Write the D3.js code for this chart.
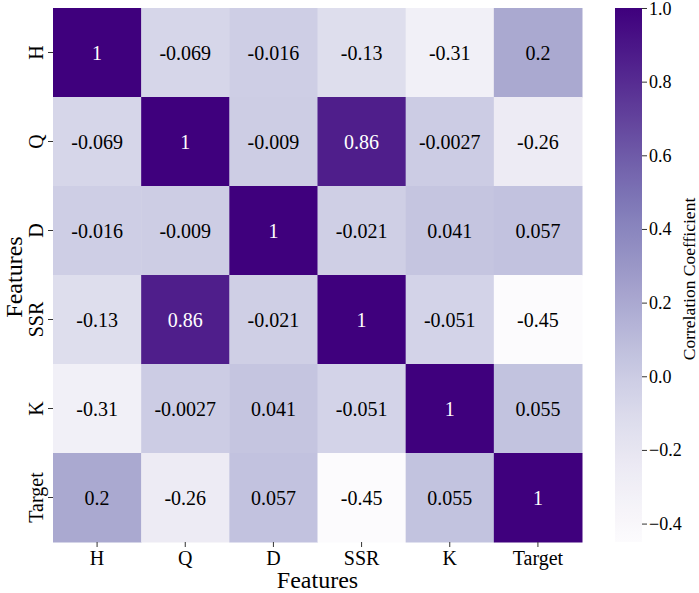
<!DOCTYPE html>
<html>
<head>
<meta charset="utf-8">
<script src="https://cdn.jsdelivr.net/npm/d3@7"></script>
<style>
  body { margin: 0; background: #fff; }
  text { font-family: "Liberation Serif", "Times New Roman", serif; }
</style>
</head>
<body>
<svg id="chart" width="699" height="593"></svg>
<script>
// feature names (rows and columns)
let features = ["H", "Q", "D", "SSR", "K", "Target"];

// correlation matrix, row by row
let corrH      = [1, -0.069, -0.016, -0.13, -0.31, 0.2];
let corrQ      = [-0.069, 1, -0.009, 0.86, -0.0027, -0.26];
let corrD      = [-0.016, -0.009, 1, -0.021, 0.041, 0.057];
let corrSSR    = [-0.13, 0.86, -0.021, 1, -0.051, -0.45];
let corrK      = [-0.31, -0.0027, 0.041, -0.051, 1, 0.055];
let corrTarget = [0.2, -0.26, 0.057, -0.45, 0.055, 1];
let rows = [corrH, corrQ, corrD, corrSSR, corrK, corrTarget];

// colorbar ticks
let cbTicks = [-0.4, -0.2, 0.0, 0.2, 0.4, 0.6, 0.8, 1.0];

let cells = [];
rows.forEach((r, i) => r.forEach((v, j) => cells.push({row: features[i], col: features[j], value: v})));

let vmin = d3.min(cells, d => d.value);
let vmax = d3.max(cells, d => d.value);

let svg = d3.select("#chart");

let mLeft = 53, mTop = 8, mRight = 582, mBottom = 542;

let xScale = d3.scaleBand().domain(features).range([mLeft, mRight]);
let yScale = d3.scaleBand().domain(features).range([mTop, mBottom]);
let color = d3.scaleSequential(d3.interpolatePurples).domain([vmin, vmax]);

// heatmap cells
svg.selectAll(".cell")
  .data(cells)
  .join("rect")
  .attr("class", "cell")
  .attr("x", d => xScale(d.col))
  .attr("y", d => yScale(d.row))
  .attr("width", xScale.bandwidth() + 0.5)
  .attr("height", yScale.bandwidth() + 0.5)
  .attr("fill", d => color(d.value));

// annotations: white text on dark cells
function textColor(v) {
  let c = d3.rgb(color(v));
  let lum = 0.2126 * c.r / 255 + 0.7152 * c.g / 255 + 0.0722 * c.b / 255;
  return lum < 0.408 ? "#fff" : "#000";
}
svg.selectAll(".annot")
  .data(cells)
  .join("text")
  .attr("class", "annot")
  .attr("x", d => xScale(d.col) + xScale.bandwidth() / 2)
  .attr("y", d => yScale(d.row) + yScale.bandwidth() / 2)
  .attr("text-anchor", "middle")
  .attr("dominant-baseline", "central")
  .style("font-size", "20px")
  .attr("fill", d => textColor(d.value))
  .text(d => String(d.value));

// x axis
let xAxis = svg.append("g")
  .attr("transform", "translate(0," + mBottom + ")")
  .call(d3.axisBottom(xScale).tickSize(5).tickPadding(4));
xAxis.select(".domain").remove();
xAxis.selectAll("line").attr("stroke", "#333");
xAxis.selectAll("text")
  .style("font-size", "20px")
  .style("font-family", "Liberation Serif")
  .attr("fill", "#000");

// y axis (vertical labels)
let yAxis = svg.append("g")
  .attr("transform", "translate(" + mLeft + ",0)")
  .call(d3.axisLeft(yScale).tickSize(5).tickPadding(0));
yAxis.select(".domain").remove();
yAxis.selectAll("line").attr("stroke", "#333");
yAxis.selectAll("text")
  .attr("x", 0).attr("dy", null)
  .attr("transform", "translate(-10,0) rotate(-90)")
  .attr("text-anchor", "middle")
  .style("font-size", "20px")
  .style("font-family", "Liberation Serif")
  .attr("fill", "#000");

// axis titles
svg.append("text")
  .attr("x", (mLeft + mRight) / 2)
  .attr("y", 588)
  .attr("text-anchor", "middle")
  .style("font-size", "24px")
  .text("Features");
svg.append("text")
  .attr("transform", "translate(22," + ((mTop + mBottom) / 2 + 2) + ") rotate(-90)")
  .attr("text-anchor", "middle")
  .style("font-size", "24px")
  .text("Features");

// colorbar
let cbX = 615, cbW = 27;
let cbScale = d3.scaleLinear().domain([vmin, vmax]).range([mBottom, mTop]);
let grad = svg.append("defs").append("linearGradient")
  .attr("id", "cbgrad")
  .attr("x1", "0").attr("y1", "1").attr("x2", "0").attr("y2", "0");
grad.selectAll("stop")
  .data(d3.range(0, 1.0001, 0.02))
  .join("stop")
  .attr("offset", d => d)
  .attr("stop-color", d => color(vmin + d * (vmax - vmin)));
svg.append("rect")
  .attr("x", cbX).attr("y", mTop)
  .attr("width", cbW).attr("height", mBottom - mTop)
  .attr("fill", "url(#cbgrad)");

let cbAxis = svg.append("g")
  .attr("transform", "translate(" + (cbX + cbW) + ",0)")
  .call(d3.axisRight(cbScale).tickValues(cbTicks).tickFormat(d => d3.format(".1f")(d).replace("-", "\u2212")).tickSize(5).tickPadding(2));
cbAxis.select(".domain").remove();
cbAxis.selectAll("line").attr("stroke", "#333");
cbAxis.selectAll("text")
  .style("font-size", "18px")
  .style("font-family", "Liberation Serif")
  .attr("fill", "#000")
  // keep the top label inside the picture
  .attr("y", d => Math.max(0, 9 - cbScale(d)));

svg.append("text")
  .attr("transform", "translate(695," + ((mTop + mBottom) / 2 + 4) + ") rotate(-90)")
  .attr("text-anchor", "middle")
  .style("font-size", "17.5px")
  .text("Correlation Coefficient");
</script>
</body>
</html>
